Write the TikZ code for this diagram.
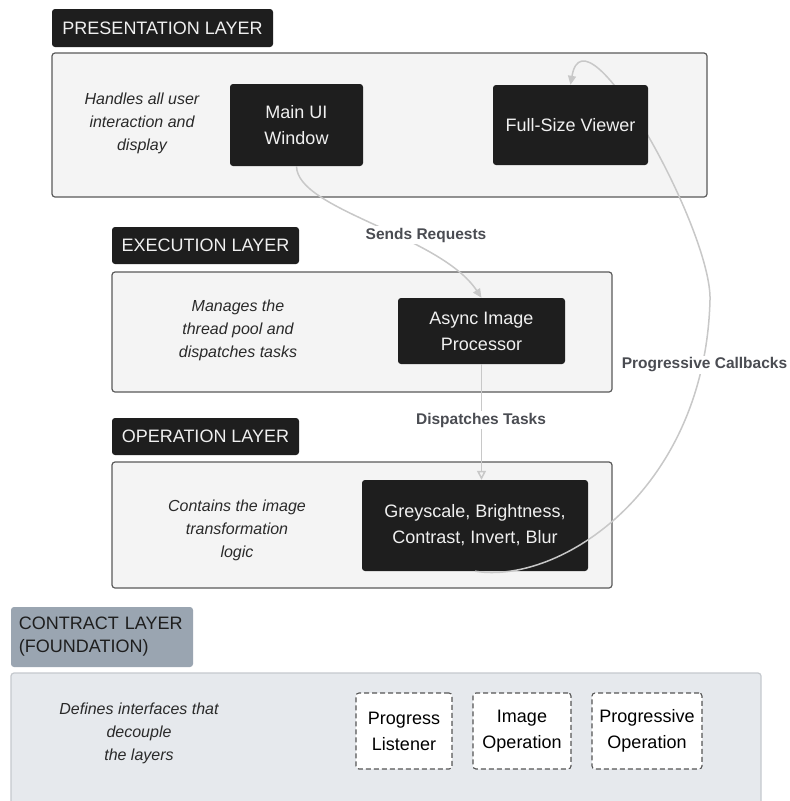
\documentclass[tikz,border=0pt]{standalone}
\usepackage{fontspec}
\setmainfont{Liberation Sans}
\usetikzlibrary{arrows.meta}
\pgfdeclarelayer{bg}
\pgfdeclarelayer{fg}
\pgfsetlayers{bg,main,fg}
\definecolor{darkbox}{HTML}{1E1E1E}
\definecolor{lighttext}{HTML}{F0F0F0}
\definecolor{panelfill}{HTML}{F4F4F4}
\definecolor{panelborder}{HTML}{5A5A5A}
\definecolor{clabelfill}{HTML}{9AA5B1}
\definecolor{cpanelfill}{HTML}{E6E9ED}
\definecolor{cpanelborder}{HTML}{C5C9CE}
\definecolor{dashgray}{HTML}{555555}
\definecolor{conngray}{HTML}{C8C8C8}
\definecolor{labeltext}{HTML}{4A4C52}
\definecolor{notetext}{HTML}{2A2A2A}
\tikzset{
  layerlabel/.style={fill=darkbox, rounded corners=3pt, text=lighttext, font=\fontsize{18}{22}\selectfont, inner sep=0pt},
  panel/.style={fill=panelfill, draw=panelborder, line width=1.2pt, rounded corners=3pt, inner sep=0pt},
  comp/.style={fill=darkbox, rounded corners=3pt, text=lighttext, font=\fontsize{18}{26}\selectfont, align=center, inner sep=0pt},
  note/.style={font=\fontsize{16}{23}\selectfont\itshape, align=center, text=notetext, inner sep=0pt},
  iface/.style={fill=white, draw=dashgray, dash pattern=on 5pt off 3pt, line width=1.1pt, rounded corners=3pt, font=\fontsize{18}{26}\selectfont, align=center, inner sep=0pt, minimum height=76pt},
  conn/.style={draw=conngray, line width=1.5pt},
  connlabel/.style={font=\fontsize{15.5}{18}\selectfont\bfseries, text=labeltext, fill=white, inner sep=2pt}
}
\begin{document}
\begin{tikzpicture}[x=1pt,y=-1pt]
\useasboundingbox (0,0) rectangle (790,801);
\clip (0,0) rectangle (790,801);

\begin{pgfonlayer}{bg}
\fill[white] (0,0) rectangle (790,801);
\node[panel, minimum width=655pt, minimum height=144pt] (ppanel) at (379.5,125) {};
\node[panel, minimum width=500pt, minimum height=120pt] (epanel) at (362,332) {};
\node[panel, minimum width=500pt, minimum height=126pt] (opanel) at (362,525) {};
\node[panel, fill=cpanelfill, draw=cpanelborder, minimum width=750pt, minimum height=137pt] (cpanel) at (386,741.5) {};
\end{pgfonlayer}

% layer labels
\node[layerlabel, minimum width=221pt, minimum height=38pt] (plabel) at (162.5,28) {PRESENTATION LAYER};
\node[layerlabel, minimum width=187pt, minimum height=37pt] (elabel) at (205.5,245.5) {EXECUTION LAYER};
\node[layerlabel, minimum width=187pt, minimum height=37pt] (olabel) at (205.5,436.5) {OPERATION LAYER};
\node[layerlabel, fill=clabelfill, text=darkbox, font=\fontsize{18}{23}\selectfont, align=left, text width=166pt, minimum width=182pt, minimum height=60pt] (clabel) at (102,637) {CONTRACT LAYER\\(FOUNDATION)};

% notes
\node[note] (n1) at (142,123) {Handles all user\\interaction and\\display};
\node[note] (n2) at (238,330) {Manages the\\thread pool and\\dispatches tasks};
\node[note] (n3) at (237,530) {Contains the image\\transformation\\logic};
\node[note] (n4) at (139,733) {Defines interfaces that\\decouple\\the layers};

% components
\node[comp, minimum width=133pt, minimum height=82pt] (mainui) at (296.5,125) {Main UI\\Window};
\begin{pgfonlayer}{fg}
\node[comp, minimum width=155pt, minimum height=80pt] (viewer) at (570.5,125) {Full-Size Viewer};
\end{pgfonlayer}
\node[comp, minimum width=167pt, minimum height=66pt] (async) at (481.5,331) {Async Image\\Processor};
\node[comp, minimum width=226pt, minimum height=91pt] (ops) at (475,525.5) {Greyscale, Brightness,\\Contrast, Invert, Blur};

% interfaces
\node[iface, minimum width=96pt] (pl) at (404,731) {Progress\\Listener};
\node[iface, minimum width=98pt] (io) at (522,731) {Image\\Operation};
\node[iface, minimum width=110pt] (po) at (647,731) {Progressive\\Operation};

% connectors
\draw[conn, -{Triangle[length=9pt,width=8pt]}] (mainui.south) .. controls (297,210) and (440,235) .. (async.north);
\draw[conn, -{Triangle[open,length=9pt,width=9pt]}] (async.south) -- (async.south |- ops.north);
\draw[conn, -{Triangle[length=9pt,width=8pt]}] (ops.south) .. controls (560,585) and (705,490) .. (710,300) .. controls (712,230) and (585,0) .. (viewer.north);

\node[connlabel] (lsend) at (426,235) {Sends Requests};
\node[connlabel] (ldisp) at (481,420) {Dispatches Tasks};
\node[connlabel] (lcall) at (704.5,365) {Progressive Callbacks};
\end{tikzpicture}
\end{document}
